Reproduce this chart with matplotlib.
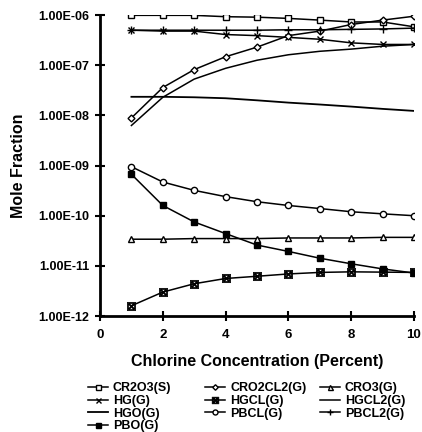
import numpy as np
import matplotlib
matplotlib.use("Agg")
import matplotlib.pyplot as plt
from matplotlib.ticker import FixedLocator, FuncFormatter

plt.rcParams['font.family'] = ['Liberation Sans', 'DejaVu Sans']
plt.rcParams['font.weight'] = 'bold'

# Chlorine concentration (percent)
x = np.arange(1, 11)

# Mole fractions
cr2o3 = [9.9e-7, 9.9e-7, 9.9e-7, 9.3e-7, 9.1e-7, 8.6e-7, 7.95e-7, 7.3e-7, 7.3e-7, 5.85e-7]
cro2cl2 = [8.9e-9, 3.6e-8, 8.2e-8, 1.48e-7, 2.3e-7, 3.9e-7, 4.8e-7, 6.5e-7, 7.95e-7, 9.5e-7]
cro3 = [3.4e-11, 3.4e-11, 3.5e-11, 3.5e-11, 3.5e-11, 3.6e-11, 3.6e-11, 3.6e-11, 3.7e-11, 3.7e-11]
hg = [5.0e-7, 4.8e-7, 4.8e-7, 4.1e-7, 3.9e-7, 3.6e-7, 3.3e-7, 2.8e-7, 2.6e-7, 2.6e-7]
hgcl = [1.6e-12, 3.0e-12, 4.4e-12, 5.6e-12, 6.2e-12, 6.9e-12, 7.4e-12, 7.6e-12, 7.5e-12, 7.4e-12]
hgcl2 = [6.3e-9, 2.3e-8, 5.3e-8, 8.7e-8, 1.26e-7, 1.62e-7, 1.9e-7, 2.1e-7, 2.4e-7, 2.6e-7]
hgo = [2.35e-8, 2.35e-8, 2.3e-8, 2.2e-8, 2.0e-8, 1.8e-8, 1.65e-8, 1.5e-8, 1.35e-8, 1.23e-8]
pbcl = [9.5e-10, 4.7e-10, 3.2e-10, 2.4e-10, 1.9e-10, 1.6e-10, 1.39e-10, 1.2e-10, 1.09e-10, 1.0e-10]
pbcl2 = [5.0e-7, 5.0e-7, 5.0e-7, 5.0e-7, 5.0e-7, 5.1e-7, 5.1e-7, 5.2e-7, 5.3e-7, 5.5e-7]
pbo = [6.7e-10, 1.6e-10, 7.5e-11, 4.4e-11, 2.6e-11, 1.94e-11, 1.42e-11, 1.1e-11, 8.7e-12, 7.2e-12]

fig = plt.figure(figsize=(4.22, 4.32), dpi=100)
ax = fig.add_axes([0.237, 0.2685, 0.744, 0.6965])

kw = dict(color='black', lw=1.1, markersize=4.5, markeredgewidth=1.0)
# legend columns, each listed top to bottom
columns = [
    [("CR2O3(S)", cr2o3, dict(marker='s', mfc='white')),
     ("HG(G)", hg, dict(marker='x')),
     ("HGO(G)", hgo, dict(marker=None, lw=1.3)),
     ("PBO(G)", pbo, dict(marker='s', mfc='black'))],
    [("CRO2CL2(G)", cro2cl2, dict(marker='D', mfc='white', markersize=3.5)),
     ("HGCL(G)", hgcl, dict(marker=r'$\boxtimes$', markersize=6, markeredgewidth=0.5)),
     ("PBCL(G)", pbcl, dict(marker='o', mfc='white'))],
    [("CRO3(G)", cro3, dict(marker='^', mfc='white')),
     ("HGCL2(G)", hgcl2, dict(marker=None)),
     ("PBCL2(G)", pbcl2, dict(marker='+', markersize=6))],
]
col_x = [0.2085, 0.486, 0.758]

for cx, col in zip(col_x, columns):
    handles = []
    for name, vals, style in col:
        opts = dict(kw)
        opts.update(style)
        line, = ax.plot(x, vals, label=name, **opts)
        handles.append(line)
    fig.legend(handles=handles, loc='upper left', bbox_to_anchor=(cx, 0.115),
               frameon=False, prop=dict(size=9, weight='bold'), handlelength=1.6,
               handletextpad=0.4, labelspacing=0.05, borderaxespad=0, borderpad=0,
               markerscale=0.8)

ax.set_yscale('log')
ax.set_xlim(0, 10)
ax.set_ylim(1e-12, 1e-6)
ax.yaxis.set_major_locator(FixedLocator([10.0 ** k for k in range(-12, -5)]))
ax.yaxis.set_minor_locator(FixedLocator([]))
ax.yaxis.set_major_formatter(FuncFormatter(lambda v, p: "1.00E-%02d" % round(-np.log10(v))))
ax.set_xticks([0, 2, 4, 6, 8, 10])

for s in ['top', 'right']:
    ax.spines[s].set_visible(False)
for s in ['left', 'bottom']:
    ax.spines[s].set_linewidth(2)
ax.tick_params(direction='inout', length=7, width=1.5, labelsize=9)
ax.tick_params(axis='x', pad=6, labelsize=9.5)
ax.tick_params(axis='y', pad=4)

ax.set_ylabel("Mole Fraction", fontsize=11.5, fontweight='bold', labelpad=9)
ax.set_xlabel("Chlorine Concentration (Percent)", fontsize=11.5, fontweight='bold', labelpad=9)

fig.savefig("out.png", dpi=100)
